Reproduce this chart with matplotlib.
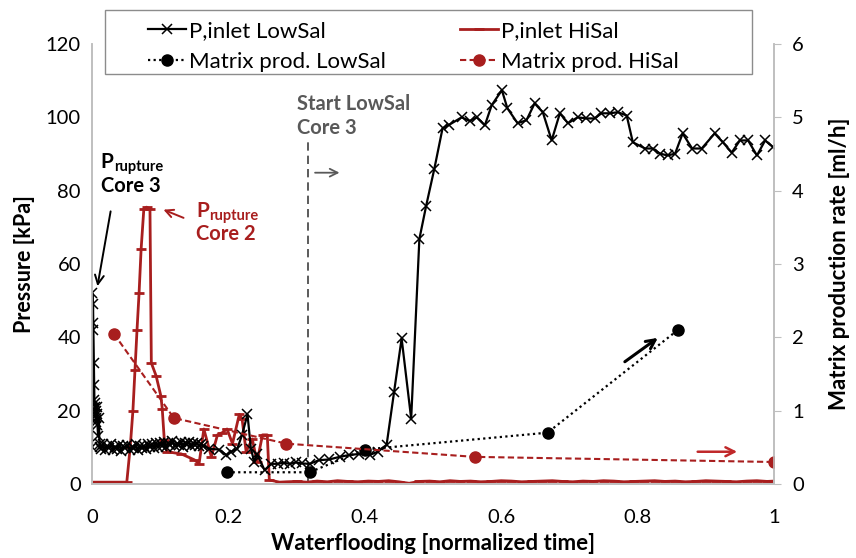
import matplotlib
matplotlib.use("Agg")
import matplotlib.pyplot as plt
from matplotlib.patches import Rectangle

plt.rcParams['font.family'] = ['Lato', 'DejaVu Sans']

RED = '#a81e1e'
GRAY_SPINE = '#bfbfbf'

# ---------------- data ----------------
# P,inlet LowSal  (kPa)
low_spike_t = [0.000, 0.0005, 0.001, 0.0015, 0.002, 0.0025, 0.003, 0.0035, 0.004, 0.0045,
               0.005, 0.0055, 0.006, 0.0065, 0.007, 0.0075, 0.008, 0.009, 0.010, 0.011, 0.012]
low_spike_p = [10, 52, 44, 49, 42, 33, 27, 23, 21, 19,
               22, 18, 20, 17, 21, 19, 16, 13, 18, 11, 10]

low_band_t = [0.013, 0.016, 0.019, 0.022, 0.025, 0.028, 0.031, 0.034, 0.037, 0.040,
              0.043, 0.046, 0.049, 0.052, 0.055, 0.058, 0.061, 0.064, 0.067, 0.070,
              0.073, 0.076, 0.079, 0.082, 0.085, 0.088, 0.091, 0.094, 0.097, 0.100,
              0.103, 0.106, 0.109, 0.112, 0.115, 0.118, 0.121, 0.124, 0.127, 0.130,
              0.133, 0.136, 0.139, 0.142, 0.145, 0.148, 0.151, 0.154, 0.157, 0.160,
              0.163]
low_band_p = [9.5, 10.8, 9.2, 10.4, 9.8, 10.9, 9.3, 10.2, 9.6, 10.7,
              9.1, 10.3, 9.9, 10.6, 9.4, 10.1, 9.7, 10.8, 9.2, 10.5,
              9.8, 10.4, 9.5, 11.0, 10.0, 10.9, 9.8, 11.3, 10.2, 11.1,
              10.4, 11.5, 10.1, 11.2, 10.6, 11.6, 10.3, 11.0, 10.7, 11.4,
              10.2, 11.3, 10.8, 11.5, 10.4, 11.1, 10.6, 11.2, 10.3, 10.9,
              10.5]

low_rest_t = [0.172, 0.186, 0.197, 0.204, 0.213, 0.220, 0.228, 0.233, 0.238, 0.242,
              0.253, 0.263, 0.272, 0.281, 0.290, 0.299, 0.308, 0.319, 0.333, 0.348,
              0.363, 0.377, 0.392, 0.407, 0.419, 0.432, 0.443, 0.454, 0.468, 0.480,
              0.490, 0.502, 0.514, 0.524, 0.542, 0.554, 0.564, 0.576, 0.586, 0.601,
              0.609, 0.624, 0.637, 0.649, 0.661, 0.674, 0.686, 0.698, 0.712, 0.725,
              0.737, 0.747, 0.759, 0.771, 0.784, 0.793, 0.811, 0.822, 0.833, 0.844,
              0.855, 0.866, 0.880, 0.894, 0.913, 0.925, 0.938, 0.950, 0.962, 0.975,
              0.987, 0.999]
low_rest_p = [9.6, 9.4, 7.9, 8.8, 9.6, 13.4, 19.0, 9.6, 6.0, 8.2,
              3.8, 5.5, 5.5, 5.8, 5.5, 5.9, 5.6, 5.5, 6.5, 6.7,
              7.4, 7.9, 8.2, 7.9, 8.8, 10.7, 25.2, 39.7, 17.8, 66.8,
              75.9, 86.0, 97.0, 98.0, 100.0, 99.0, 100.0, 97.8, 103.3, 107.4,
              102.5, 98.4, 99.2, 103.8, 101.4, 93.7, 101.1, 98.4, 100.0, 99.7,
              99.7, 101.1, 101.1, 101.4, 100.5, 93.2, 91.5, 91.5, 90.1, 89.6,
              90.1, 95.6, 91.5, 91.5, 95.6, 93.2, 90.4, 93.7, 93.7, 89.6,
              93.7, 91.8]

# P,inlet HiSal (kPa)
hi_t = [0.000, 0.010, 0.020, 0.030, 0.040, 0.051, 0.056, 0.060, 0.063, 0.066,
        0.069, 0.072, 0.076, 0.080, 0.085, 0.087, 0.094, 0.101, 0.103, 0.106,
        0.110, 0.131, 0.150, 0.157, 0.164, 0.175, 0.184, 0.191, 0.198, 0.206,
        0.216, 0.220, 0.226, 0.235, 0.242, 0.250, 0.257, 0.260, 0.275]
hi_p = [0.5, 0.5, 0.5, 0.5, 0.5, 0.5, 10, 20, 31, 42,
        52, 64, 75, 75.5, 75, 33, 29.5, 24, 20.5, 12,
        8.8, 8.2, 6.6, 5.5, 15, 7.4, 13.4, 14, 15, 11,
        19, 17.8, 8.8, 12.3, 6, 13.4, 13.4, 1.1, 0.5]
hi_flat_t = [0.285, 0.300, 0.315, 0.330, 0.345, 0.360, 0.375, 0.390, 0.405, 0.420,
             0.435, 0.450, 0.465, 0.480, 0.495, 0.510, 0.525, 0.540, 0.555, 0.570,
             0.585, 0.600, 0.615, 0.630, 0.645, 0.660, 0.675, 0.690, 0.705, 0.720,
             0.735, 0.750, 0.765, 0.780, 0.795, 0.810, 0.825, 0.840, 0.855, 0.870,
             0.885, 0.900, 0.915, 0.930, 0.945, 0.960, 0.975, 0.990, 1.000]
hi_flat_p = [0.6, 0.7, 0.5, 0.8, 0.6, 0.9, 0.7, 0.6, 0.8, 0.7,
             0.9, 0.6, 0.2, 0.7, 0.8, 0.6, 0.9, 0.7, 0.8, 0.6,
             0.7, 0.9, 0.8, 0.6, 0.7, 0.8, 0.9, 0.7, 0.6, 0.8,
             0.7, 0.9, 0.8, 0.6, 0.7, 0.8, 0.9, 0.7, 0.8, 0.6,
             0.7, 0.9, 0.8, 0.7, 0.6, 0.8, 0.9, 0.7, 0.8]

# Matrix production rate (ml/h)
mat_low_t = [0.198, 0.319, 0.400, 0.668, 0.859]
mat_low_q = [0.16, 0.16, 0.47, 0.70, 2.10]
mat_hi_t = [0.032, 0.120, 0.285, 0.561, 1.000]
mat_hi_q = [2.05, 0.90, 0.55, 0.37, 0.30]

start_lowsal = 0.316

x_ticks = [0, 0.2, 0.4, 0.6, 0.8, 1]
x_tick_labels = ['0', '0.2', '0.4', '0.6', '0.8', '1']
y_ticks = [0, 20, 40, 60, 80, 100, 120]
y2_ticks = [0, 1, 2, 3, 4, 5, 6]

# ---------------- figure ----------------
W, H = 856, 558
fig = plt.figure(figsize=(W / 100, H / 100), dpi=100)
ax = fig.add_axes([92 / W, 1 - 484 / H, 682 / W, 440 / H])
ax2 = ax.twinx()

low_t = low_spike_t + low_band_t + low_rest_t
low_p = low_spike_p + low_band_p + low_rest_p
hi_all_t = hi_t + hi_flat_t
hi_all_p = hi_p + hi_flat_p

l_hi, = ax.plot(hi_all_t, hi_all_p, color=RED, lw=2, marker='_', ms=7, mew=2,
                label='P,inlet HiSal', zorder=2)
l_low, = ax.plot(low_t, low_p, color='black', lw=1.6, marker='x', ms=7, mew=1.1,
                 label='P,inlet LowSal', zorder=3)

m_low, = ax2.plot(mat_low_t, mat_low_q, color='black', ls=(0, (1, 1.5)), lw=1.6,
                  marker='o', ms=8, label='Matrix prod. LowSal')
m_hi, = ax2.plot(mat_hi_t, mat_hi_q, color=RED, ls=(0, (3, 1.6)), lw=1.5,
                 marker='o', ms=8, label='Matrix prod. HiSal')

ax.set_xlim(0, 1)
ax.set_ylim(0, 120)
ax2.set_ylim(0, 6)

ax.set_xticks(x_ticks)
ax.set_xticklabels(x_tick_labels)
ax.set_yticks(y_ticks)
ax2.set_yticks(y2_ticks)

for a in (ax, ax2):
    a.spines['top'].set_visible(False)
    for s in ('left', 'right', 'bottom'):
        a.spines[s].set_color(GRAY_SPINE)
        a.spines[s].set_linewidth(1.2)
ax.tick_params(axis='both', length=0, labelsize=14.5, pad=8)
ax.tick_params(axis='x', pad=18)
ax2.tick_params(axis='y', length=5, color=GRAY_SPINE, labelsize=14.5, pad=8)

ax.set_xlabel('Waterflooding [normalized time]', fontsize=16, fontweight='bold', labelpad=5)
ax.set_ylabel('Pressure [kPa]', fontsize=15.5, fontweight='bold', labelpad=8)
ax2.set_ylabel('Matrix production rate [ml/h]', fontsize=16, fontweight='bold', labelpad=18)

# start LowSal marker line
ax.axvline(start_lowsal, ymin=0, ymax=(482 - 140) / 440, color='#404040', lw=1.2,
           ls=(0, (5, 3)), zorder=1)
ax.text(0.30, 102, 'Start LowSal', color='#595959', fontsize=14.5, fontweight='bold')
ax.text(0.30, 95.5, 'Core 3', color='#595959', fontsize=14.5, fontweight='bold')
ax.annotate('', xy=(0.367, 84.9), xytext=(0.323, 84.9),
            arrowprops=dict(arrowstyle='->', color='#595959', lw=1.3, mutation_scale=14))

# P rupture core 3
ax.text(0.013, 86.3, 'P', color='black', fontsize=15, fontweight='bold')
ax.text(0.032, 85.4, 'rupture', color='black', fontsize=10.5, fontweight='bold')
ax.text(0.013, 79.6, 'Core 3', color='black', fontsize=14.5, fontweight='bold')
ax.annotate('', xy=(0.0073, 53.2), xytext=(0.028, 75.1),
            arrowprops=dict(arrowstyle='->', color='black', lw=1.4, mutation_scale=16))

# P rupture core 2
ax.text(0.153, 72.8, 'P', color=RED, fontsize=15, fontweight='bold')
ax.text(0.172, 72.0, 'rupture', color=RED, fontsize=10.5, fontweight='bold')
ax.text(0.153, 66.6, 'Core 2', color=RED, fontsize=14.5, fontweight='bold')
ax.annotate('', xy=(0.101, 75.1), xytext=(0.138, 72.3),
            arrowprops=dict(arrowstyle='->', color=RED, lw=1.4, mutation_scale=14))

# trend arrows
ax.annotate('', xy=(0.833, 40.3), xytext=(0.778, 32.9),
            arrowprops=dict(arrowstyle='->', color='black', lw=2.2, mutation_scale=16))
ax.annotate('', xy=(0.950, 8.8), xytext=(0.884, 8.8),
            arrowprops=dict(arrowstyle='->', color='#c0282a', lw=1.8, mutation_scale=16))

# legend: frame + two columns
fig.patches.append(Rectangle((105 / W, 1 - 74 / H), (752 - 105) / W, 64 / H,
                             transform=fig.transFigure, fill=False,
                             edgecolor='#8c8c8c', lw=1.0))
leg_kw = dict(loc='upper left', fontsize=16, frameon=False, handlelength=1.7,
              handletextpad=0.15, borderpad=0, labelspacing=0.5, borderaxespad=0)
leg1 = fig.legend(handles=[l_low, m_low], bbox_to_anchor=(148 / W, 1 - 21 / H), **leg_kw)
leg2 = fig.legend(handles=[l_hi, m_hi], bbox_to_anchor=(460 / W, 1 - 21 / H), **leg_kw)

fig.savefig('out.png', dpi=100)
